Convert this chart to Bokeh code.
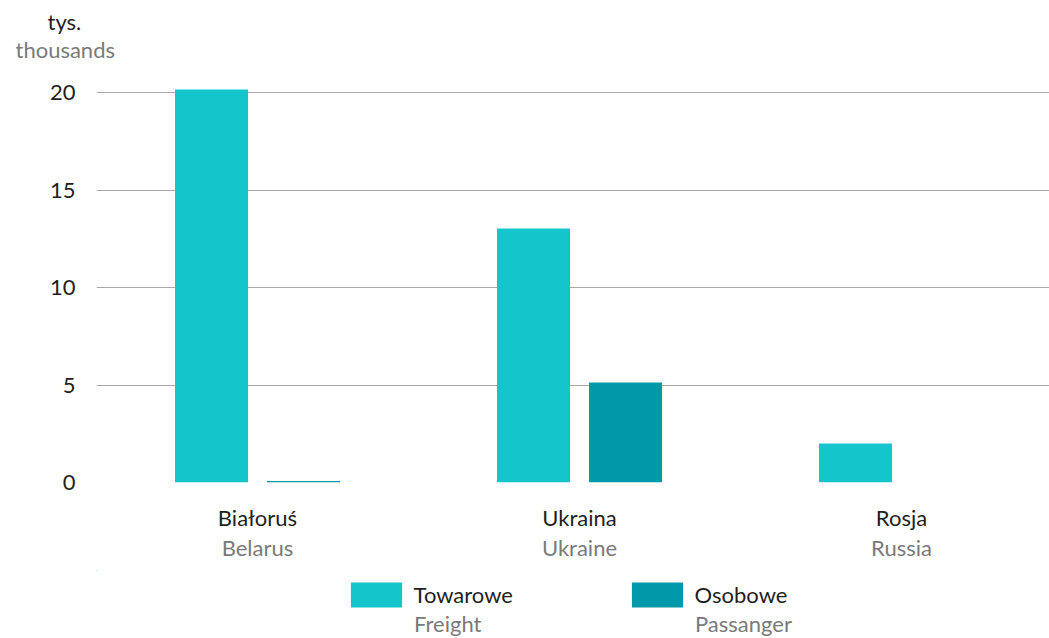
from bokeh.plotting import figure
from bokeh.models import (Range1d, FixedTicker, LinearAxis, Legend, LegendItem,
                          ColumnDataSource, Title)
from bokeh.layouts import column
from bokeh.embed import file_html
from bokeh.resources import INLINE
from bokeh.transform import dodge

# ---- data ----
categories_pl = ["Białoruś", "Ukraina", "Rosja"]
categories_en = ["Belarus", "Ukraine", "Russia"]
freight = [20.15, 13.03, 2.0]
passenger = [0.08, 5.13, 0.0]
y_ticks = [0, 5, 10, 15, 20]
series_pl = ["Towarowe", "Osobowe"]
series_en = ["Freight", "Passanger"]
unit_pl = "tys."
unit_en = "thousands"

# ---- style ----
FONT = "Lato"
FS = "22px"
DARK = "#231f20"
GREY = "#7a7a7a"
C_FREIGHT = "#14c5cb"
C_PASS = "#0099a9"
GRID = "#a8a8a8"

W = 1049
H1, H2 = 570, 68
LEFT, TOP, BOTTOM = 96, 70, 88
frame_w = W - LEFT
px_per_cat = 322.0
y_end = (H1 - TOP - BOTTOM) / 19.5

pos = [i + 0.5 for i in range(len(categories_pl))]
src = ColumnDataSource(dict(x=pos, freight=freight, passenger=passenger))

p = figure(width=W, height=H1, output_backend="svg", toolbar_location=None,
           x_range=Range1d(0, frame_w / px_per_cat), y_range=Range1d(0, y_end),
           min_border_left=LEFT, min_border_right=0, min_border_top=TOP,
           min_border_bottom=BOTTOM, x_axis_location=None, y_axis_location=None)
p.outline_line_color = None
p.xgrid.visible = False
p.ygrid.ticker = FixedTicker(ticks=y_ticks)
p.ygrid.grid_line_color = GRID
p.ygrid.grid_line_width = 1
p.title.visible = False

def axis(ticks, overrides=None, standoff=0, color=DARK):
    ax = LinearAxis(ticker=FixedTicker(ticks=ticks), axis_line_color=None,
                    major_tick_line_color=None, minor_tick_line_color=None,
                    major_tick_out=0, major_tick_in=0, minor_tick_out=0, minor_tick_in=0,
                    major_label_standoff=standoff, major_label_text_font=FONT,
                    major_label_text_font_size=FS, major_label_text_color=color)
    if overrides:
        ax.major_label_overrides = overrides
    return ax

p.add_layout(axis(y_ticks, standoff=21), "left")
p.add_layout(axis(pos, {x: t for x, t in zip(pos, categories_pl)}, 21, DARK), "below")
p.add_layout(axis(pos, {x: t for x, t in zip(pos, categories_en)}, 0, GREY), "below")

off = 46 / px_per_cat
bw = 73 / px_per_cat
p.vbar(x=dodge("x", -off, range=p.x_range), top="freight", width=bw,
       source=src, fill_color=C_FREIGHT, line_color=None)
p.vbar(x=dodge("x", off, range=p.x_range), top="passenger", width=bw,
       source=src, fill_color=C_PASS, line_color=None)

p.add_layout(Title(text=unit_en, align="left", offset=-81, standoff=16,
                   text_font=FONT, text_font_size=FS, text_font_style="normal",
                   text_color=GREY), "above")
p.add_layout(Title(text=unit_pl, align="left", offset=-49, standoff=-18,
                   text_font=FONT, text_font_size=FS, text_font_style="normal",
                   text_color=DARK), "above")

# ---- legend strip (its frame is aligned with the chart's frame by the column) ----
lg = figure(width=W, height=H2, output_backend="svg", toolbar_location=None,
            x_range=Range1d(10, 11), y_range=Range1d(-12, -11), min_border=0,
            min_border_left=LEFT, min_border_right=0,
            x_axis_location=None, y_axis_location=None)
lg.outline_line_color = None
lg.grid.visible = False
lg.title.visible = False
# series key renderers: zero-width bars outside this strip's ranges, only used for the legend keys
k1 = lg.vbar(x="x", top="freight", width=0, source=src, fill_color=C_FREIGHT, line_color=None)
k2 = lg.vbar(x="x", top="passenger", width=0, source=src, fill_color=C_PASS, line_color=None)

common = dict(orientation="horizontal", padding=0, margin=0, border_line_color=None,
              background_fill_alpha=0, label_text_font=FONT, label_text_font_size=FS,
              label_width=110)
leg1 = Legend(items=[LegendItem(label=series_pl[0], renderers=[k1]),
                     LegendItem(label=series_pl[1], renderers=[k2])],
              location=(247.6, 28), glyph_width=64, glyph_height=31, label_height=31,
              label_standoff=6, spacing=101, label_text_color=DARK, **common)
leg2 = Legend(items=[LegendItem(label=series_en[0], renderers=[k1]),
                     LegendItem(label=series_en[1], renderers=[k2])],
              location=(318, 1), glyph_width=0, glyph_height=20, label_height=20,
              label_standoff=0, spacing=171, label_text_color=GREY, **common)
lg.add_layout(leg1, "center")
lg.add_layout(leg2, "center")

layout = column(p, lg, spacing=0)
open("out.html", "w").write(file_html(layout, INLINE))
